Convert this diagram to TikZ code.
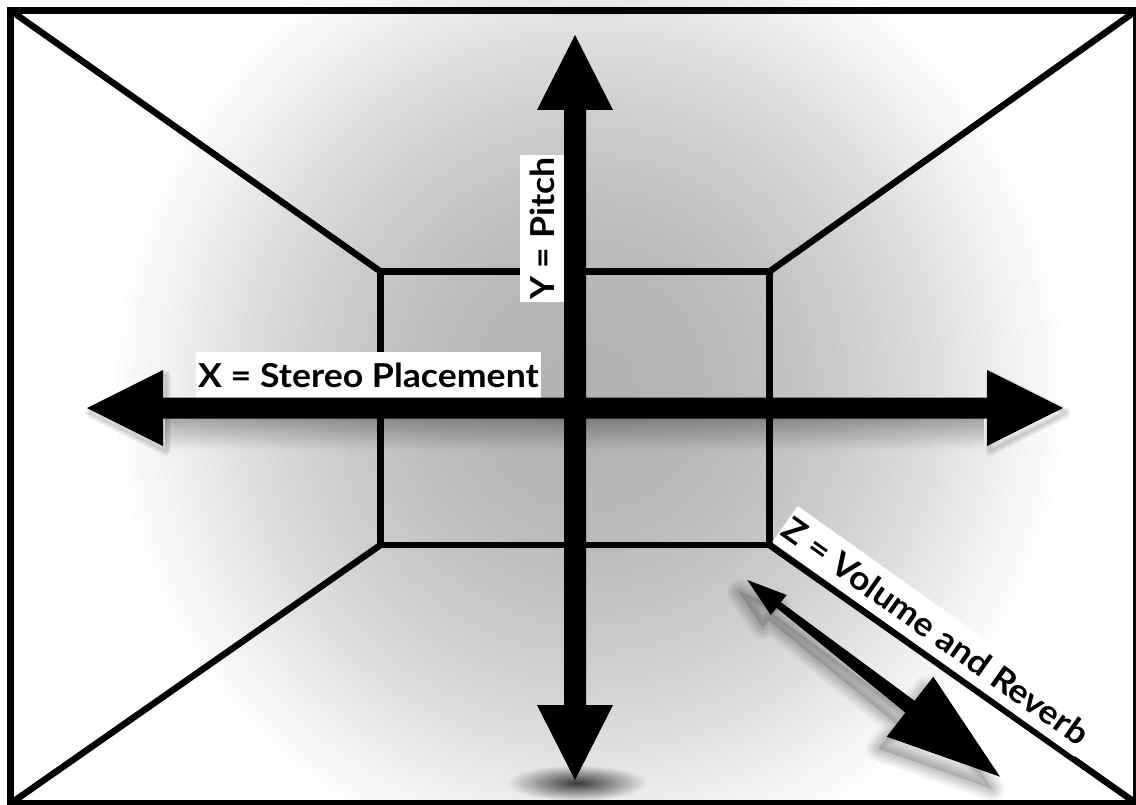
\documentclass[tikz,border=0pt]{standalone}
\usepackage{fontspec}
\newfontfamily\labelfont{Lato}[FakeStretch=1.08]
\usetikzlibrary{calc,fadings}
\tikzfading[name=fadedown, top color=transparent!0, bottom color=transparent!100]
\tikzfading[name=fadeoval, inner color=transparent!0, outer color=transparent!100]
\tikzset{
  frame/.style={line width=7pt, line join=miter},
  wall/.style={line width=6.5pt, line join=miter},
  lbl/.style={fill=white, font=\labelfont\bfseries\fontsize{33}{38}\selectfont,
    inner xsep=2pt, inner ysep=10pt, text height=24pt, text depth=0pt},
  axisfill/.style={fill=black},
  shadowlayer/.style={black, line join=round},
}
\begin{document}
\begin{tikzpicture}[x=1pt,y=-1pt]
\useasboundingbox (0,0) rectangle (1136,805);
\clip (0,0) rectangle (1136,805);
\fill[white] (0,0) rectangle (1136,805);
% soft radial background (stepped ellipses)
\foreach \i in {1,...,60}{
  \pgfmathsetmacro\r{1-\i/61}
  \pgfmathsetmacro\c{30*(1-\r*\r)^1.2}
  \fill[black!\c] (590,390) ellipse ({490*\r} and {500*\r});
}

% named points
\coordinate (oTL) at (10.5,10.5);
\coordinate (oTR) at (1136.5,10.5);
\coordinate (oBR) at (1136.5,803.5);
\coordinate (oBL) at (10.5,803.5);
\coordinate (iTL) at (380.5,271.5);
\coordinate (iTR) at (769.5,271.5);
\coordinate (iBR) at (769.5,545);
\coordinate (iBL) at (380.5,545);
\coordinate (xL) at (87,408);
\coordinate (xR) at (1063,408);
\coordinate (yT) at (575,35);
\coordinate (yB) at (575,780);
\coordinate (zA) at (747.3,580);
\coordinate (zB) at (1000,776.7);

% shadows
\fill[black,opacity=0.42,path fading=fadedown] (165,405) rectangle (985,450);
\foreach \w in {9,5,1}{
  \draw[shadowlayer,opacity=0.07,line width=\w pt,shift={(3,5)}] (87,408) -- ++(76,-38) -- ++(0,76) -- cycle;
  \draw[shadowlayer,opacity=0.07,line width=\w pt,shift={(3,5)}] (1063,408) -- ++(-76,-38) -- ++(0,76) -- cycle;
}
\fill[black,opacity=0.75,path fading=fadeoval] (577,783) ellipse (70 and 18);
\fill[black,opacity=0.12,shift={(-8,12)}]
    (747.3,580) -- (786.7,595) -- (780.9,602.2) -- (914.6,700.8) -- (933.3,676.7)
    -- (1000,776.7) -- (886.7,736.7) -- (905.4,712.6) -- (776.5,607.8) -- (770.7,615) -- cycle;
\foreach \w in {24,18,13,8,3}{
  \draw[shadowlayer,opacity=0.05,line width=\w pt,shift={(-8,12)}]
    (747.3,580) -- (786.7,595) -- (780.9,602.2) -- (914.6,700.8) -- (933.3,676.7)
    -- (1000,776.7) -- (886.7,736.7) -- (905.4,712.6) -- (776.5,607.8) -- (770.7,615) -- cycle;
}

% room
\draw[wall] (iTL) rectangle (iBR);
\draw[wall] (oTL) -- (iTL);
\draw[wall] (oTR) -- (iTR);
\draw[wall] (oBR) -- (iBR);
\draw[wall] (oBL) -- (iBL);

% labels
\node[lbl, anchor=south west, inner ysep=11pt] (xlab) at (196,398.5) {X = Stereo Placement};
\node[lbl, anchor=south west, rotate=90] (ylab) at (564.5,302) {Y = Pitch};
\node[lbl, anchor=south west, rotate=-35.4] (zlab) at (772,542) {Z = Volume and Reverb};

% axes
\fill[axisfill] (xL) -- ++(76,-38) -- ++(0,27.5) -- ($(xR)+(-76,-10.5)$) -- ++(0,-27.5)
  -- (xR) -- ++(-76,38) -- ++(0,-27.5) -- ($(xL)+(76,10.5)$) -- ++(0,27.5) -- cycle;
\fill[axisfill] (yT) -- ++(38,75) -- ++(-27,0) -- ($(yB)+(11,-75)$) -- ++(27,0)
  -- (yB) -- ++(-38,-75) -- ++(27,0) -- ($(yT)+(-11,75)$) -- ++(-27,0) -- cycle;
\fill[axisfill] (zA) -- (786.7,595) -- (780.9,602.2) -- (914.6,700.8) -- (933.3,676.7)
  -- (zB) -- (886.7,736.7) -- (905.4,712.6) -- (776.5,607.8) -- (770.7,615) -- cycle;

% frame
\draw[frame] (oTL) rectangle (oBR);
\end{tikzpicture}
\end{document}
